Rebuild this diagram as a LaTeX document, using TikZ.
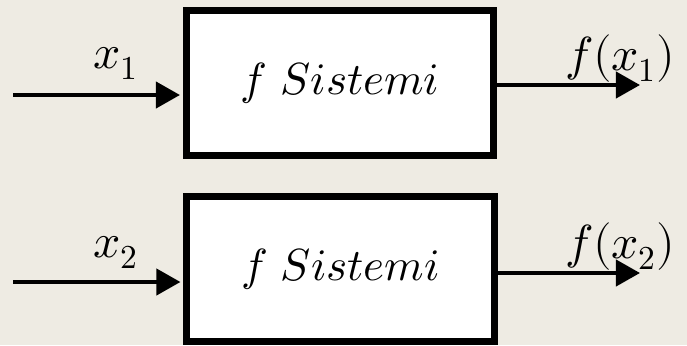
\documentclass[tikz,border=0pt]{standalone}
\usepackage{unicode-math}
\usepackage{xcolor}
\usepackage{tikz}
\usetikzlibrary{arrows.meta, positioning, calc}

\definecolor{slidebg}{RGB}{238,235,227}

\begin{document}
\begin{tikzpicture}[x=0.025cm, y=-0.025cm,
    sysbox/.style={draw, line width=0.175cm, fill=white, minimum width=7.675cm, minimum height=3.625cm, inner sep=0pt, font=\fontsize{32}{38}\selectfont},
    sig/.style={font=\fontsize{34}{40}\selectfont, inner sep=0pt, anchor=base west},
    flow/.style={line width=0.1cm, -{Triangle[length=0.6cm, width=0.65cm]}}
]
    % slide background
    \fill[slidebg] (0,0) rectangle (687,345);
    \useasboundingbox (0,0) rectangle (687,345);

    \node[sysbox] (sys1) at (340,83) {$f\ Sistemi$};
    \node[sysbox] (sys2) at (340.5,269) {$f\ Sistemi$};

    \coordinate (in1) at (13,95);
    \coordinate (out1) at (640,85);
    \coordinate (in2) at (13,282);
    \coordinate (out2) at (640,273);

    \draw[flow, shorten >=0.075cm] (in1) -- (in1 -| sys1.west);
    \draw[flow] (sys1.east |- out1) -- (out1);
    \draw[flow, shorten >=0.075cm] (in2) -- (in2 -| sys2.west);
    \draw[flow] (sys2.east |- out2) -- (out2);

    \node[sig] (lx1) at (93,68) {$x_1$};
    \node[sig] (lf1) at (565,70) {$f(x_1)$};
    \node[sig] (lx2) at (93,257) {$x_2$};
    \node[sig] (lf2) at (565,258) {$f(x_2)$};
\end{tikzpicture}
\end{document}
